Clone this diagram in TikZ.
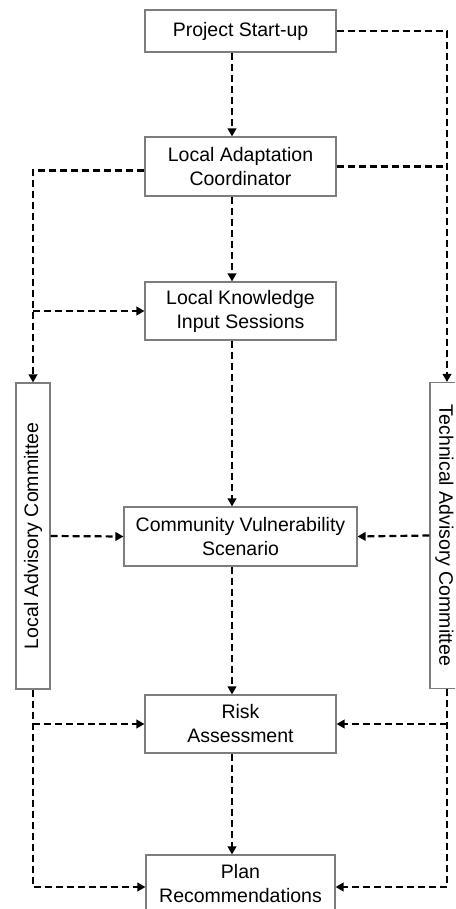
\documentclass[tikz,border=0pt]{standalone}
\usepackage{fontspec}
\usepackage{graphicx}
\setmainfont{Liberation Sans}
\usetikzlibrary{arrows.meta}
\definecolor{boxgray}{RGB}{125,125,125}
\tikzset{
  box/.style={draw=boxgray, line width=1.1pt, fill=white, align=center, inner sep=0pt,
    font=\fontsize{19.5}{24}\selectfont},
  sidebox/.style={box, minimum width=34pt, minimum height=306pt},
  dl/.style={line width=2.2pt, dash pattern=on 7pt off 4pt},
  dar/.style={dl, -{Triangle[length=8pt,width=8.5pt]}}
}
\begin{document}
\begin{tikzpicture}[x=1pt,y=-1pt]
\clip (0,0) rectangle (455,909);
\fill[white] (0,0) rectangle (455,909);
\coordinate (L) at (33,0);
\coordinate (R) at (447,0);
\coordinate (M) at (232,0);
\node[box, minimum width=191pt, minimum height=42pt] (psu) at (240.5,31) {Project Start-up};
\node[box, minimum width=191pt, minimum height=59pt] (lac) at (240.5,166.5) {Local Adaptation\\Coordinator};
\node[box, minimum width=191pt, minimum height=58pt] (lkis) at (240.5,311) {Local Knowledge\\Input Sessions};
\node[box, minimum width=233pt, minimum height=59pt] (cvs) at (240.5,536.5) {Community Vulnerability\\Scenario};
\node[box, minimum width=191pt, minimum height=58pt] (ra) at (240.5,724) {Risk\\Assessment};
\node[box, minimum width=189pt, minimum height=58pt] (pr) at (240.5,884) {Plan\\Recommendations};
\node[sidebox] (lcom) at (33,536) {\rotatebox{90}{Local Advisory Committee}};
\node[sidebox] (tcom) at (447,535.5) {\hspace*{-5pt}\rotatebox{-90}{Technical Advisory Committee}};
% centre chain
\draw[dar] (psu.south -| M) -- (lac.north -| M);
\draw[dar] (lac.south -| M) -- (lkis.north -| M);
\draw[dar] (lkis.south -| M) -- (cvs.north -| M);
\draw[dar] (cvs.south -| M) -- (ra.north -| M);
\draw[dar] (ra.south -| M) -- (pr.north -| M);
% right side
\draw[dar] (psu.east) -| (tcom.north);
\draw[dl] (lac.east) -- (lac.east -| R);
\draw[dar] (tcom.west) -- (cvs.east);
\draw[dar] (tcom.south) |- ([yshift=-3pt]pr.east);
\draw[dar] (ra.east -| R) -- (ra.east);
% left side
\draw[dar] ([yshift=-4pt]lac.west) -| (lcom.north);
\draw[dar] (lkis.west -| L) -- (lkis.west);
\draw[dar] (lcom.east) -- (cvs.west);
\draw[dar] (lcom.south) |- ([yshift=-3pt]pr.west);
\draw[dar] (ra.west -| L) -- (ra.west);
\end{tikzpicture}
\end{document}
